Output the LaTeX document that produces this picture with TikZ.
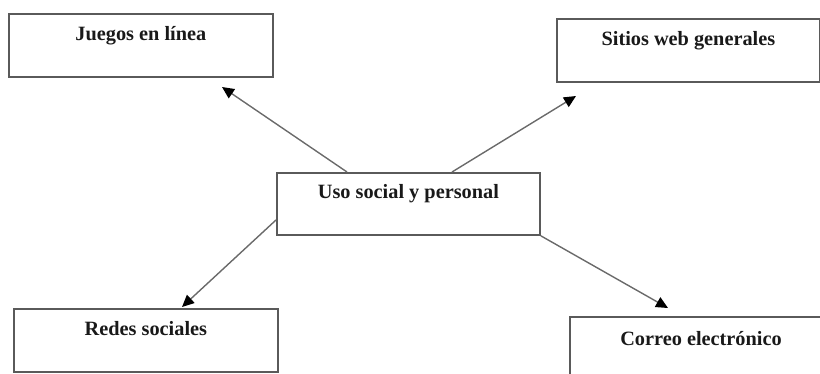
\documentclass[tikz,border=0pt]{standalone}
\usepackage{fontspec}
\setmainfont{Liberation Serif}
\usetikzlibrary{arrows.meta,calc}
\definecolor{boxgray}{HTML}{5A5A5A}
\definecolor{linegray}{HTML}{6A6A6A}
\tikzset{
  box/.style={draw=boxgray, line width=1.8pt, fill=white, anchor=north west, inner sep=0pt},
  lbl/.style={anchor=base, font=\fontsize{20.3}{23}\selectfont\bfseries, inner sep=0pt, text=black!90},
  conn/.style={draw=linegray, line width=1.4pt, -{Triangle[length=12pt,width=11pt,color=black]}}
}
\begin{document}
\begin{tikzpicture}[x=1pt,y=-1pt]
\useasboundingbox (0,0) rectangle (820,373);
\clip (0,0) rectangle (820,373);
% boxes
\node[box, minimum width=264pt, minimum height=63pt] (juegos) at (8,13) {};
\node[box, minimum width=263pt, minimum height=63pt] (sitios) at (556,18) {};
\node[box, minimum width=263pt, minimum height=62pt] (uso) at (276,172) {};
\node[box, minimum width=264pt, minimum height=63pt] (redes) at (13,308) {};
\node[box, minimum width=264pt, minimum height=70pt] (correo) at (569,316) {};
% labels
\node[lbl] (tj) at ($(juegos.north)+(0,27)$) {Juegos en línea};
\node[lbl] (ts) at ($(sitios.north)+(0,27)$) {Sitios web generales};
\node[lbl] (tu) at ($(uso.north)+(0,26)$) {Uso social y personal};
\node[lbl] (tr) at ($(redes.north)+(0,27)$) {Redes sociales};
\node[lbl] (tc) at (701,345) {Correo electrónico};
% connector ends
\coordinate (ej) at (222,87);
\coordinate (es) at (576,96);
\coordinate (er) at (182,307);
\coordinate (ec) at (668,308);
\draw[conn] ($(uso.north west)+(71,0)$) -- (ej);
\draw[conn] ($(uso.north west)+(176,0)$) -- (es);
\draw[conn] ($(uso.north west)+(0,48)$) -- (er);
\draw[conn] (uso.south east) -- (ec);
\end{tikzpicture}
\end{document}
